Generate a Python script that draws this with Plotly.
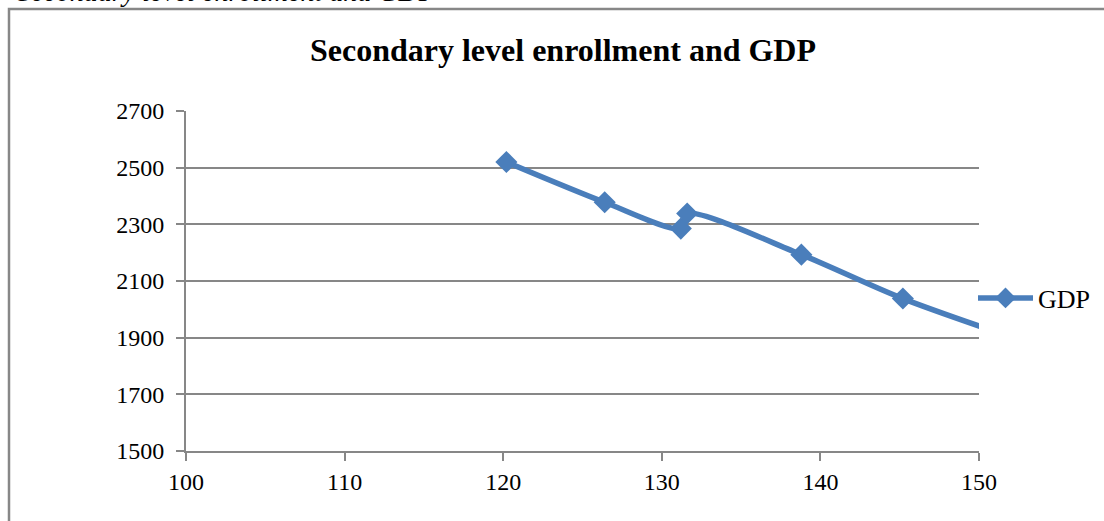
import plotly.graph_objects as go

# Data
enrollment = [120.2, 126.4, 131.2, 131.6, 138.8, 145.2, 155.3]
gdp = [2520, 2378, 2285, 2338, 2193, 2038, 1840]
series_name = "GDP"
title_text = "Secondary level enrollment and GDP"
caption_text = "Secondary level enrollment and GDP"
x_ticks = [100, 110, 120, 130, 140, 150]
y_ticks = [1500, 1700, 1900, 2100, 2300, 2500, 2700]

FONT = "Liberation Serif, Times New Roman, serif"
BLUE = "#4A7EBB"
GRID = "#878787"

fig = go.Figure()
fig.add_trace(go.Scatter(
    x=enrollment, y=gdp, name=series_name,
    mode="lines+markers",
    line=dict(color=BLUE, width=5.5, shape="spline", smoothing=0.8),
    marker=dict(symbol="diamond", size=17, color=BLUE),
))

L, R, T, B = 186, 125, 111, 70
W, H = 1104, 521
pw, ph = W - L - R, H - T - B

def px2paper_x(px):
    return (px - L) / pw

def px2paper_y(py):
    return (H - B - py) / ph

fig.update_layout(
    width=W, height=H,
    margin=dict(l=L, r=R, t=T, b=B, pad=0, autoexpand=False),
    paper_bgcolor="white", plot_bgcolor="white",
    font=dict(family=FONT, size=24, color="black"),
    title=dict(text="<b>" + title_text + "</b>", x=px2paper_x(563), xref="paper",
               xanchor="center", y=1 - 50 / H, yanchor="middle",
               font=dict(family=FONT, size=32, color="black")),
    showlegend=True,
    legend=dict(x=px2paper_x(973), y=px2paper_y(298), xanchor="left", yanchor="middle",
                font=dict(family=FONT, size=26, color="black"),
                bgcolor="rgba(0,0,0,0)", itemwidth=55),
    xaxis=dict(range=[100, 150], tickvals=x_ticks, showgrid=False,
               showline=True, linecolor=GRID, linewidth=2,
               ticks="outside", ticklen=8, tickwidth=2, tickcolor=GRID,
               zeroline=False, tickfont=dict(family=FONT, size=24, color="black")),
    yaxis=dict(range=[1500, 2700], tickvals=y_ticks, showgrid=True,
               gridcolor=GRID, gridwidth=2,
               showline=True, linecolor=GRID, linewidth=2,
               ticks="outside", ticklen=8, tickwidth=2, tickcolor=GRID,
               ticklabelstandoff=7,
               zeroline=False, tickfont=dict(family=FONT, size=24, color="black")),
    shapes=[dict(type="rect", xref="paper", yref="paper",
                 x0=px2paper_x(9), x1=px2paper_x(1130),
                 y0=px2paper_y(540), y1=px2paper_y(9),
                 line=dict(color=GRID, width=2.5), fillcolor="rgba(0,0,0,0)",
                 layer="below")],
    annotations=[dict(text="<i>" + caption_text + "</i>", xref="paper", yref="paper",
                      x=px2paper_x(15), y=px2paper_y(9), xanchor="left", yanchor="bottom",
                      showarrow=False, font=dict(family=FONT, size=28, color="black"))],
)

fig.write_html("out.html")
